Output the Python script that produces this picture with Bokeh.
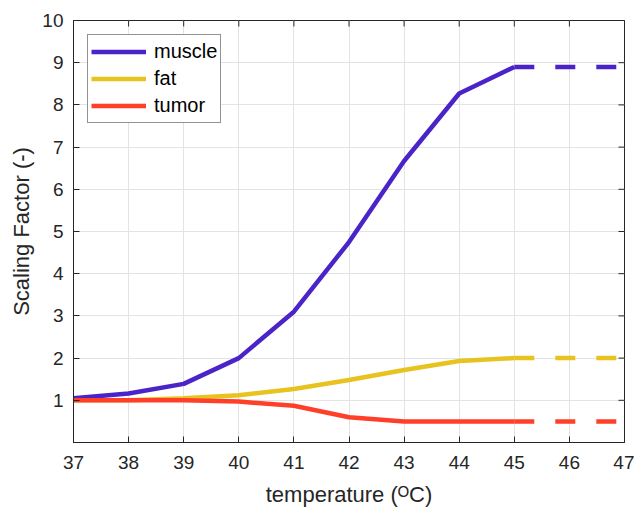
import math
from bokeh.plotting import figure
from bokeh.models import FixedTicker, Range1d, Legend, LegendItem
from bokeh.embed import file_html
from bokeh.resources import INLINE

# ---- data ----
temperature = [37, 38, 39, 40, 41, 42, 43, 44, 45]
muscle = [1.05, 1.16, 1.39, 2.0, 3.1, 4.75, 6.67, 8.27, 8.9]
fat = [1.0, 1.0, 1.05, 1.12, 1.27, 1.48, 1.72, 1.93, 2.0]
tumor = [1.0, 1.0, 1.0, 0.97, 0.87, 0.6, 0.5, 0.5, 0.5]
ext_temperature = [45, 47]
muscle_ext = [8.9, 8.9]
fat_ext = [2.0, 2.0]
tumor_ext = [0.5, 0.5]
x_ticks = [37, 38, 39, 40, 41, 42, 43, 44, 45, 46, 47]
y_ticks = [1, 2, 3, 4, 5, 6, 7, 8, 9, 10]
x_min, x_max = 37, 47
y_min, y_max = 0, 10

FONT = "Liberation Sans"
AX = "#262626"
C_MUSCLE = "#4a24c8"
C_FAT = "#e8c31f"
C_TUMOR = "#ff3f28"

p = figure(frame_width=551, frame_height=422,
           x_range=Range1d(x_min, x_max), y_range=Range1d(y_min, y_max),
           output_backend="svg", toolbar_location=None,
           min_border_left=73, min_border_right=10, min_border_top=20,
           min_border_bottom=70)
p.outline_line_color = AX
p.outline_line_width = 1
p.background_fill_color = "white"
p.border_fill_color = "white"

p.xgrid.ticker = FixedTicker(ticks=x_ticks)
p.ygrid.ticker = FixedTicker(ticks=y_ticks)
p.grid.grid_line_color = "#e3e3e3"
p.grid.grid_line_width = 1

LW = 4.5
r_m = p.line(temperature, muscle, line_color=C_MUSCLE, line_width=LW)
p.line(ext_temperature, muscle_ext, line_color=C_MUSCLE, line_width=LW, line_dash="20 21")
r_f = p.line(temperature, fat, line_color=C_FAT, line_width=LW)
p.line(ext_temperature, fat_ext, line_color=C_FAT, line_width=LW, line_dash="20 21")
r_t = p.line(temperature, tumor, line_color=C_TUMOR, line_width=LW)
p.line(ext_temperature, tumor_ext, line_color=C_TUMOR, line_width=LW, line_dash="20 21")

# box ticks on top and right edges (inward, clipped to the frame)
p.scatter(x_ticks, [y_max] * len(x_ticks), marker="dash", size=12, angle=math.pi / 2,
          line_color=AX, line_width=1)
p.scatter([x_max] * len(y_ticks), y_ticks, marker="dash", size=12,
          line_color=AX, line_width=1)

for ax in (p.xaxis[0], p.yaxis[0]):
    ax.axis_line_color = AX
    ax.major_tick_line_color = AX
    ax.major_tick_in = 6
    ax.major_tick_out = 0
    ax.minor_tick_line_color = None
    ax.major_label_text_font = FONT
    ax.major_label_text_color = AX
    ax.major_label_text_font_size = "19px"
    ax.axis_label_text_font = FONT
    ax.axis_label_text_color = AX
    ax.axis_label_text_font_size = "22px"
    ax.axis_label_text_font_style = "normal"

p.xaxis.ticker = FixedTicker(ticks=x_ticks)
p.yaxis.ticker = FixedTicker(ticks=y_ticks)
p.xaxis.axis_label = "temperature (ᴼC)"
p.yaxis.axis_label = "Scaling Factor (-)"
p.xaxis.major_label_standoff = 13
p.yaxis.major_label_standoff = 10
p.xaxis.axis_label_standoff = 10
p.yaxis.axis_label_standoff = 5

legend = Legend(items=[LegendItem(label="muscle", renderers=[r_m]),
                       LegendItem(label="fat", renderers=[r_f]),
                       LegendItem(label="tumor", renderers=[r_t])],
                location="top_left")
legend.margin = 14
legend.padding = 3
legend.spacing = 0
legend.glyph_width = 55
legend.glyph_height = 27
legend.label_height = 27
legend.label_standoff = 8
legend.label_text_font = FONT
legend.label_text_font_size = "20px"
legend.label_text_color = "black"
legend.border_line_color = AX
legend.border_line_width = 1
legend.background_fill_alpha = 1
p.add_layout(legend)

open("out.html", "w").write(file_html(p, INLINE))
